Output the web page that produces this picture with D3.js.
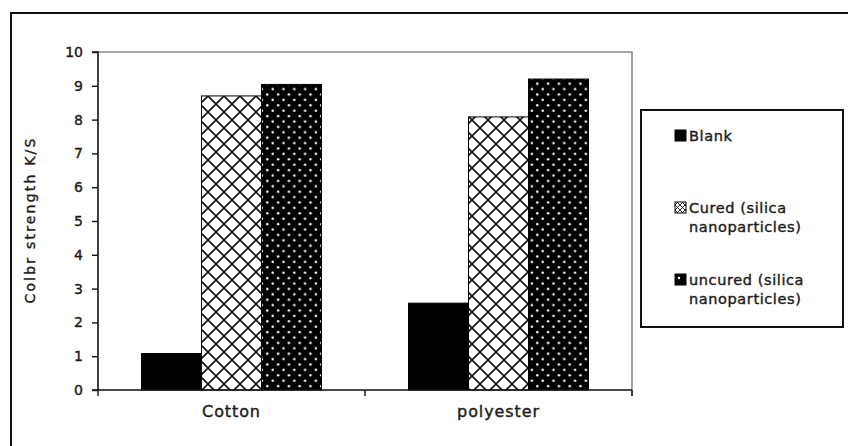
<!DOCTYPE html>
<html><head><meta charset="utf-8">
<script src="https://cdn.jsdelivr.net/npm/d3@7"></script>
<style>
html,body{margin:0;padding:0;background:#fff;}
svg{display:block;}
text{font-family:"DejaVu Sans",Verdana,sans-serif;fill:#1c1c1c;stroke:#1c1c1c;stroke-width:0.4px;}
</style></head>
<body>
<svg id="c" width="848" height="446"></svg>
<script>
const categories = ["Cotton", "polyester"];
const seriesNames = ["Blank", "Cured (silica nanoparticles)", "uncured (silica nanoparticles)"];
const legendLines = [["Blank"], ["Cured (silica", "nanoparticles)"], ["uncured (silica", "nanoparticles)"]];
const blankValues = [1.08, 2.57];
const curedValues = [8.7, 8.08];
const uncuredValues = [9.04, 9.2];
const yTicks = [0,1,2,3,4,5,6,7,8,9,10];
const yTitle = "Colbr strength K/S";

const svg = d3.select("#c");
const defs = svg.append("defs");

// crosshatch pattern
const ch = defs.append("pattern").attr("id","cross").attr("patternUnits","userSpaceOnUse")
  .attr("width",16).attr("height",16).attr("x",0).attr("y",0);
ch.append("rect").attr("width",16).attr("height",16).attr("fill","#fff");
ch.append("path").attr("d","M0,0L16,16M16,0L0,16M-8,8L8,24M8,-8L24,8M-8,8L8,-8M8,24L24,8")
  .attr("stroke","#111").attr("stroke-width",1.6).attr("fill","none");
// dotted pattern
const dp = defs.append("pattern").attr("id","dots").attr("patternUnits","userSpaceOnUse")
  .attr("width",10.8).attr("height",10.8);
dp.append("rect").attr("width",10.8).attr("height",10.8).attr("fill","#000");
dp.append("circle").attr("cx",2.7).attr("cy",2.7).attr("r",1.25).attr("fill","#fff");
dp.append("circle").attr("cx",8.1).attr("cy",8.1).attr("r",1.25).attr("fill","#fff");
// small legend patterns
const chs = defs.append("pattern").attr("id","crossS").attr("patternUnits","userSpaceOnUse")
  .attr("width",5).attr("height",5);
chs.append("rect").attr("width",5).attr("height",5).attr("fill","#fff");
chs.append("path").attr("d","M0,0L5,5M5,0L0,5").attr("stroke","#111").attr("stroke-width",0.9);

const fills = ["#000","url(#cross)","url(#dots)"];
const legendFills = ["#000","url(#crossS)","#000"];

// outer frame
svg.append("rect").attr("x",11).attr("y",13).attr("width",900).attr("height",500)
  .attr("fill","none").attr("stroke","#111").attr("stroke-width",2);

const x0 = d3.scaleBand().domain(categories).range([98,632]).paddingInner(0.326).paddingOuter(0.163);
const x1 = d3.scaleBand().domain(seriesNames).range([0,x0.bandwidth()]);
const y = d3.scaleLinear().domain([0,10]).range([390,52]);

// plot border (gray top & right)
svg.append("path").attr("d",`M98,${y(10)}H632V${y(0)+6}`).attr("fill","none")
  .attr("stroke","#8a8a8a").attr("stroke-width",1.6);

const data = categories.map((c,i)=>({cat:c, vals:[blankValues[i],curedValues[i],uncuredValues[i]]}));

const g = svg.append("g");
data.forEach(d=>{
  d.vals.forEach((v,j)=>{
    g.append("rect")
      .attr("x",x0(d.cat)+x1(seriesNames[j]))
      .attr("y",y(v))
      .attr("width",x1.bandwidth())
      .attr("height",y(0)-y(v))
      .attr("fill",fills[j])
      .attr("stroke","#000").attr("stroke-width",1);
  });
});

// y axis
const ya = svg.append("g").attr("transform","translate(98,0)")
  .call(d3.axisLeft(y).tickValues(yTicks).tickSize(6).tickPadding(9).tickFormat(d3.format("d")));
ya.select(".domain").attr("stroke","#111").attr("stroke-width",1.6).attr("d",`M-6,${y(10)}H0V${y(0)}`);
ya.selectAll(".tick line").attr("stroke","#111").attr("stroke-width",1.4);
ya.selectAll(".tick text").style("font-size","14px").attr("fill","#1c1c1c").style("font-family","DejaVu Sans, Verdana, sans-serif");

// x axis
const xa = svg.append("g").attr("transform",`translate(0,${y(0)})`);
xa.append("path").attr("d","M92,0H632").attr("stroke","#111").attr("stroke-width",1.6);
[98, (x0.range()[0]+x0.range()[1])/2, 632].forEach(t=>{
  xa.append("line").attr("x1",t).attr("x2",t).attr("y1",0).attr("y2",6).attr("stroke","#111").attr("stroke-width",1.4);
});
categories.forEach(c=>{
  xa.append("text").attr("x",x0(c)+x0.bandwidth()/2).attr("y",27).attr("text-anchor","middle")
    .style("font-size","16px").style("letter-spacing","0.9px").text(c);
});

// y title
svg.append("text").attr("transform","translate(35,220) rotate(-90)").attr("text-anchor","middle")
  .style("font-size","14px").style("letter-spacing","2.2px").text(yTitle);

// legend
const lg = svg.append("g");
lg.append("rect").attr("x",641).attr("y",110).attr("width",202).attr("height",217)
  .attr("fill","#fff").attr("stroke","#111").attr("stroke-width",2);
const legY = [141, 213, 285];
legendLines.forEach((lines,i)=>{
  lg.append("rect").attr("x",675).attr("y",legY[i]-11).attr("width",11).attr("height",11)
    .attr("fill",legendFills[i]).attr("stroke","#000").attr("stroke-width",1);
  if(i===2){
    lg.append("circle").attr("cx",679).attr("cy",legY[i]-7).attr("r",1.2).attr("fill","#fff");
  }
  lines.forEach((t,k)=>{
    lg.append("text").attr("x",689).attr("y",legY[i]+k*19)
      .style("font-size","14.5px").style("letter-spacing","0.6px").text(t);
  });
});
</script>
</body></html>
